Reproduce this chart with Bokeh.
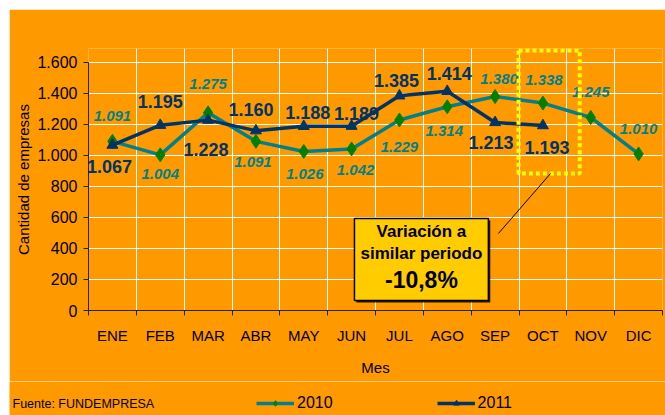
from bokeh.plotting import figure
from bokeh.layouts import column, row
from bokeh.models import (ColumnDataSource, FixedTicker, Legend, LegendItem, Label,
                          BoxAnnotation, Arrow, Spacer)
from bokeh.core.properties import value
from bokeh.embed import file_html
from bokeh.resources import INLINE

# ---------------- data ----------------
months = ["ENE", "FEB", "MAR", "ABR", "MAY", "JUN", "JUL", "AGO", "SEP", "OCT", "NOV", "DIC"]
v2010 = [1091, 1004, 1275, 1091, 1026, 1042, 1229, 1314, 1380, 1338, 1245, 1010]
v2011 = [1067, 1195, 1228, 1160, 1188, 1189, 1385, 1414, 1213, 1193]
yticks = [0, 200, 400, 600, 800, 1000, 1200, 1400, 1600]

# label offsets in screen px (negative = up)
dx2010 = [0, 0, 0, -3, 1, 4, 0, -3, 4, 1, 0, 0]
dy2010 = [-25, 19, -29, 21, 23, 21, 27, 24, -18, -23, -25, -25]
dx2011 = [-3, 0, -2, -5, 4, 5, -3, 2, -4, 4]
dy2011 = [21, -24, 29, -21, -14, -13, -15, -18, 20, 22]

FONT = "Liberation Sans"
ORANGE = "#FF9900"
TEAL = "#00808C"
GREEN = "#008000"
NAVY = "#003366"

def fmt(v):
    return f"{v:,}".replace(",", ".")

centers = [i + 0.5 for i in range(len(months))]
bounds = list(range(len(months) + 1))

src10 = ColumnDataSource(dict(x=centers, y=v2010, t=[fmt(v) for v in v2010], dx=dx2010, dy=dy2010))
src11 = ColumnDataSource(dict(x=centers[:len(v2011)], y=v2011, t=[fmt(v) for v in v2011],
                              dx=dx2011, dy=dy2011))

p = figure(width=656, height=372, x_range=(0, 12), y_range=(0, 1690),
           output_backend="svg", toolbar_location=None,
           min_border_left=79, min_border_top=39, min_border_right=3, min_border_bottom=71,
           background_fill_color=ORANGE, border_fill_color=ORANGE, outline_line_color=None)

# grids
p.xgrid.ticker = FixedTicker(ticks=bounds)
p.xgrid.bounds = (0, 1600)
p.ygrid.ticker = FixedTicker(ticks=yticks)
for g in (p.xgrid, p.ygrid):
    g.grid_line_color = "white"
    g.grid_line_width = 1

# y axis
p.yaxis.ticker = FixedTicker(ticks=yticks)
p.yaxis.bounds = (0, 1600)
p.yaxis.major_label_overrides = {t: fmt(t) for t in yticks}
p.yaxis.major_tick_in = 0
p.yaxis.major_tick_out = 5
p.yaxis.major_label_standoff = 6
p.yaxis.axis_label = "Cantidad de empresas"
p.yaxis.axis_label_standoff = 2

# x axis
p.xaxis.ticker = FixedTicker(ticks=centers, minor_ticks=bounds)
p.xaxis.major_label_overrides = {c: m for c, m in zip(centers, months)}
p.xaxis.major_tick_out = 5
p.xaxis.minor_tick_in = 0
p.xaxis.minor_tick_out = 5
p.xaxis.major_label_standoff = 11
p.xaxis.axis_label = "Mes"
p.xaxis.axis_label_standoff = 12

for ax in (p.xaxis, p.yaxis):
    ax.axis_line_color = "#222222"
    ax.major_label_text_font = FONT
    ax.major_label_text_font_size = "15px"
    ax.major_label_text_color = "black"
    ax.axis_label_text_font = FONT
    ax.axis_label_text_font_size = "15px"
    ax.axis_label_text_font_style = "normal"
    ax.axis_label_text_color = "black"
p.yaxis.major_label_text_font_size = "16px"
p.yaxis.major_tick_line_color = "#222222"
p.yaxis.minor_tick_line_color = None
p.xaxis.major_tick_line_color = None
p.xaxis.minor_tick_line_color = "#222222"

# series
p.line("x", "y", source=src10, line_color=TEAL, line_width=3.5)
p.scatter("x", "y", source=src10, marker="diamond", size=14, fill_color=GREEN, line_color=GREEN)
p.line("x", "y", source=src11, line_color=NAVY, line_width=3.5)
p.scatter("x", "y", source=src11, marker="triangle", size=11, fill_color=NAVY, line_color=NAVY)

p.text("x", "y", text="t", source=src10, x_offset="dx", y_offset="dy",
       text_align="center", text_baseline="middle", text_font=value(FONT),
       text_font_style="bold italic", text_font_size="15px", text_color=TEAL)
p.text("x", "y", text="t", source=src11, x_offset="dx", y_offset="dy",
       text_align="center", text_baseline="middle", text_font=value(FONT),
       text_font_style="bold", text_font_size="18px", text_color=NAVY)

# highlight box and callout
p.add_layout(BoxAnnotation(left=8.99, right=10.27, bottom=884, top=1677,
                           fill_alpha=0, line_color="#FFFF00", line_alpha=1,
                           line_width=4, line_dash="4 3"))
p.add_layout(Arrow(x_start=8.57, y_start=497, x_end=9.66, y_end=884, end=None,
                   line_color="black", line_width=1))
p.add_layout(BoxAnnotation(left=5.60, right=8.40, bottom=52, top=581,
                           fill_color="black", fill_alpha=0.85, line_alpha=0))
p.add_layout(BoxAnnotation(left=5.56, right=8.36, bottom=65, top=594,
                           fill_color="#FFCC00", fill_alpha=1, line_color="black",
                           line_alpha=1, line_width=1.5))
for txt, yy, fs in (("Variación a", 510, "17px"), ("similar periodo", 368, "17px"), ("-10,8%", 194, "23px")):
    p.add_layout(Label(x=6.96, y=yy, text=txt, text_align="center", text_baseline="middle",
                       text_font=FONT, text_font_style="bold", text_font_size=fs, text_color="black"))

# ---- legend / source strip (hidden series renderers only feed the legend) ----
q = figure(width=656, height=34, x_range=(0, 12), y_range=(0, 1690), output_backend="svg",
           toolbar_location=None, x_axis_type=None, y_axis_type=None,
           min_border=0, min_border_left=0, min_border_right=0, min_border_top=0, min_border_bottom=0,
           background_fill_color=ORANGE, border_fill_color=ORANGE, outline_line_color=None)
q.xgrid.visible = False
q.ygrid.visible = False
r10l = q.line("x", "y", source=src10, line_color=TEAL, line_width=3.5)
r10m = q.scatter("x", "y", source=src10, marker="diamond", size=12, fill_color=GREEN, line_color=GREEN)
r11l = q.line("x", "y", source=src11, line_color=NAVY, line_width=3.5)
r11m = q.scatter("x", "y", source=src11, marker="triangle", size=10, fill_color=NAVY, line_color=NAVY)
for r in (r10l, r10m, r11l, r11m):
    r.visible = False

legend = Legend(items=[LegendItem(label="2010", renderers=[r10l, r10m]),
                       LegendItem(label="2011", renderers=[r11l, r11m])],
                orientation="horizontal", location=(247, 3), spacing=104,
                glyph_width=38, glyph_height=14, label_standoff=3,
                label_text_font=FONT, label_text_font_size="16px", label_text_color="black",
                inactive_fill_alpha=0,
                background_fill_alpha=0, border_line_color=None, padding=2, margin=0)
q.add_layout(legend)
q.add_layout(Label(x=3, y=12, x_units="screen", y_units="screen", text="Fuente: FUNDEMPRESA",
                   text_align="left", text_baseline="middle", text_font=FONT,
                   text_font_size="12.5px", text_color="black"))

root = column(Spacer(width=665, height=9),
              row(Spacer(width=9, height=372), p, spacing=0),
              row(Spacer(width=9, height=34), q, spacing=0),
              spacing=0)
open("out.html", "w").write(file_html(root, INLINE))
